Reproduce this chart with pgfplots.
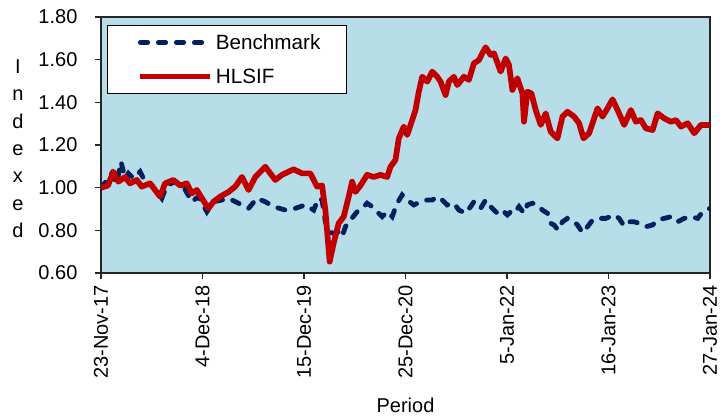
\documentclass[border=0pt]{standalone}
\usepackage{pgfplots}
\pgfplotsset{compat=1.18}
\usepackage{fontspec}
\setmainfont{Liberation Sans}
\definecolor{bgblue}{RGB}{183,221,232}
\definecolor{navy}{RGB}{0,32,96}
\definecolor{darkred}{RGB}{192,0,0}
\begin{document}
\begin{tikzpicture}
\begin{axis}[
  scale only axis,
  width=456.75pt, height=192pt,
  xmin=0, xmax=608, ymin=0.6, ymax=1.8,
  axis background/.style={fill=bgblue},
  axis line style={black!85, line width=0.9pt},
  xtick={0,101.33,202.67,304,405.33,506.67,608},
  xticklabels={23-Nov-17,4-Dec-18,15-Dec-19,25-Dec-20,5-Jan-22,16-Jan-23,27-Jan-24},
  xticklabel style={yshift=-4.5pt, rotate=90, anchor=east, inner sep=0pt, font=\fontsize{15}{17}\selectfont},
  ytick={0.6,0.8,1.0,1.2,1.4,1.6,1.8},
  yticklabel style={/pgf/number format/.cd, fixed, fixed zerofill, precision=2, assume math mode=true, /tikz/.cd, font=\fontsize{15}{17}\selectfont, anchor=east, inner sep=0pt, xshift=-13pt},
  tick align=outside, major tick length=4.5pt,
  tick style={black!85, line width=0.9pt},
  xtick pos=bottom, ytick pos=left,
  xlabel={Period}, xlabel style={at={(axis description cs:0.5,0)}, anchor=center, yshift=-99pt, font=\fontsize{15}{17}\selectfont},
  ylabel={\renewcommand\arraystretch{1.367}\begin{tabular}{@{}c@{}}I\\n\\d\\e\\x\\e\\d\end{tabular}},
  ylabel style={rotate=-90, at={(axis description cs:0,0.5)}, anchor=center, xshift=-62.25pt, yshift=-3.75pt, font=\fontsize{15}{15}\selectfont},
  legend style={at={(0,1)}, anchor=north west, xshift=4.5pt, yshift=-6pt, draw=black, fill=white, line width=0.75pt,
    font=\fontsize{15.5}{18}\selectfont, inner xsep=0pt, inner ysep=0pt, row sep=0pt,
    nodes={inner sep=2pt, text width=96pt, minimum height=25.5pt, text depth=0pt}, cells={anchor=west}},
  legend cell align=left,
  legend image code/.code={\path (-22.5pt,0pt); \draw[#1] (0pt,0pt) -- (52.5pt,0pt);},
]
\addplot[navy, line width=3.6pt, line cap=round, dash pattern=on 5.5pt off 8pt] coordinates {
(0,0.997) (10.7,1.067) (15.7,1.02) (20,1.122) (24,1.044) (27.3,1.067) (32.3,1.044) (39,1.075) (44,1.028) (50.7,1.01) (60.7,0.95) (65.7,1.01) (74,1.028) (82.3,1.005) (90.7,0.934) (97.3,0.958) (105.7,0.887) (112.3,0.934) (120.7,0.942) (127.3,0.95) (137.3,0.927) (147.3,0.903) (155.7,0.95) (164,0.934) (172.3,0.911) (184,0.895) (194,0.903) (204,0.919) (212.3,0.895) (217.3,0.95) (220.7,0.942) (224,0.84) (227.3,0.793) (232.3,0.786) (237.3,0.793) (240.7,0.77) (244,0.817) (249,0.848) (255.7,0.887) (260.7,0.903) (265.7,0.927) (270.7,0.911) (275.7,0.887) (280.7,0.864) (285.7,0.887) (290.7,0.864) (295.7,0.927) (300.7,0.966) (305.7,0.942) (312.3,0.919) (319,0.934) (325.7,0.942) (330.7,0.942) (335.7,0.958) (340.7,0.942) (345.7,0.919) (352.3,0.927) (357.3,0.895) (364,0.880) (369,0.911) (372.3,0.934) (379,0.903) (384,0.942) (389,0.911) (395.7,0.88) (400.7,0.895) (405.7,0.872) (409,0.887) (412.3,0.88) (417.3,0.911) (422.3,0.88) (425.7,0.919) (430.7,0.927) (435.7,0.919) (440.7,0.895) (445.7,0.88) (449,0.833) (452.3,0.825) (456.3,0.801) (460.7,0.84) (465.7,0.856) (470.7,0.848) (475.7,0.825) (480.7,0.789) (485.7,0.817) (490.7,0.848) (497.3,0.856) (504,0.856) (512.3,0.872) (517.3,0.856) (522.3,0.820) (527.3,0.84) (532.3,0.84) (537.3,0.833) (544,0.817) (550.7,0.825) (555.7,0.848) (562.3,0.856) (569,0.864) (575.7,0.84) (582.3,0.856) (589,0.864) (595.7,0.856) (600.7,0.887) (608,0.903)
};
\addlegendentry{Benchmark}
\addplot[darkred, line width=4.3pt, line join=round] coordinates {
(0,1.00) (7,1.01) (12.3,1.075) (17.3,1.028) (24,1.05) (29,1.02) (35.7,1.036) (40.7,1.005) (49,1.02) (54,0.989) (59,0.958) (64,1.02) (72.3,1.036) (79,1.01) (85.7,1.02) (90.7,0.973) (95.7,0.989) (100.7,0.95) (107.3,0.903) (112.3,0.934) (119,0.958) (127.3,0.98) (134,1.005) (140.7,1.05) (147.3,0.989) (154,1.05) (164,1.098) (174,1.036) (180.7,1.06) (192.3,1.086) (200.7,1.067) (209,1.067) (215.7,1.005) (220.7,1.01) (224,0.895) (228.3,0.653) (232.3,0.74) (237.3,0.833) (242.3,0.864) (247.3,0.958) (250.7,1.028) (254,0.98) (259,1.01) (265.7,1.06) (272.3,1.05) (279,1.06) (285.7,1.05) (289,1.098) (294,1.13) (297.3,1.231) (302.3,1.286) (305.7,1.247) (310.7,1.317) (314,1.364) (317.3,1.45) (320.7,1.52) (325.7,1.497) (330.7,1.544) (335.7,1.52) (339,1.497) (344,1.434) (347.3,1.497) (352.3,1.52) (355.7,1.481) (362.3,1.52) (367.3,1.505) (372.3,1.583) (377.3,1.598) (380.7,1.63) (384,1.658) (389,1.622) (392.3,1.63) (399,1.544) (404,1.606) (407.3,1.575) (410.7,1.458) (415.7,1.513) (420.7,1.442) (422.3,1.309) (425.7,1.45) (429.7,1.442) (434,1.364) (439,1.294) (444,1.348) (449,1.262) (455.7,1.231) (460.7,1.333) (465.7,1.356) (472.3,1.333) (477.3,1.302) (481.7,1.231) (487.3,1.255) (490.7,1.302) (495.7,1.372) (500.7,1.333) (505.7,1.372) (510.7,1.414) (515.7,1.364) (522.3,1.294) (529,1.364) (534,1.309) (539,1.317) (544,1.278) (550.7,1.27) (555.7,1.348) (562.3,1.325) (569,1.309) (574,1.317) (579,1.286) (585.7,1.302) (592.3,1.255) (599,1.294) (608,1.294)
};
\addlegendentry{HLSIF}
\end{axis}
\pgfresetboundingbox
\path[use as bounding box] ([xshift=-75.75pt,yshift=-107.25pt]current axis.south west) rectangle ([xshift=9.75pt,yshift=12.75pt]current axis.north east);
\end{tikzpicture}
\end{document}
